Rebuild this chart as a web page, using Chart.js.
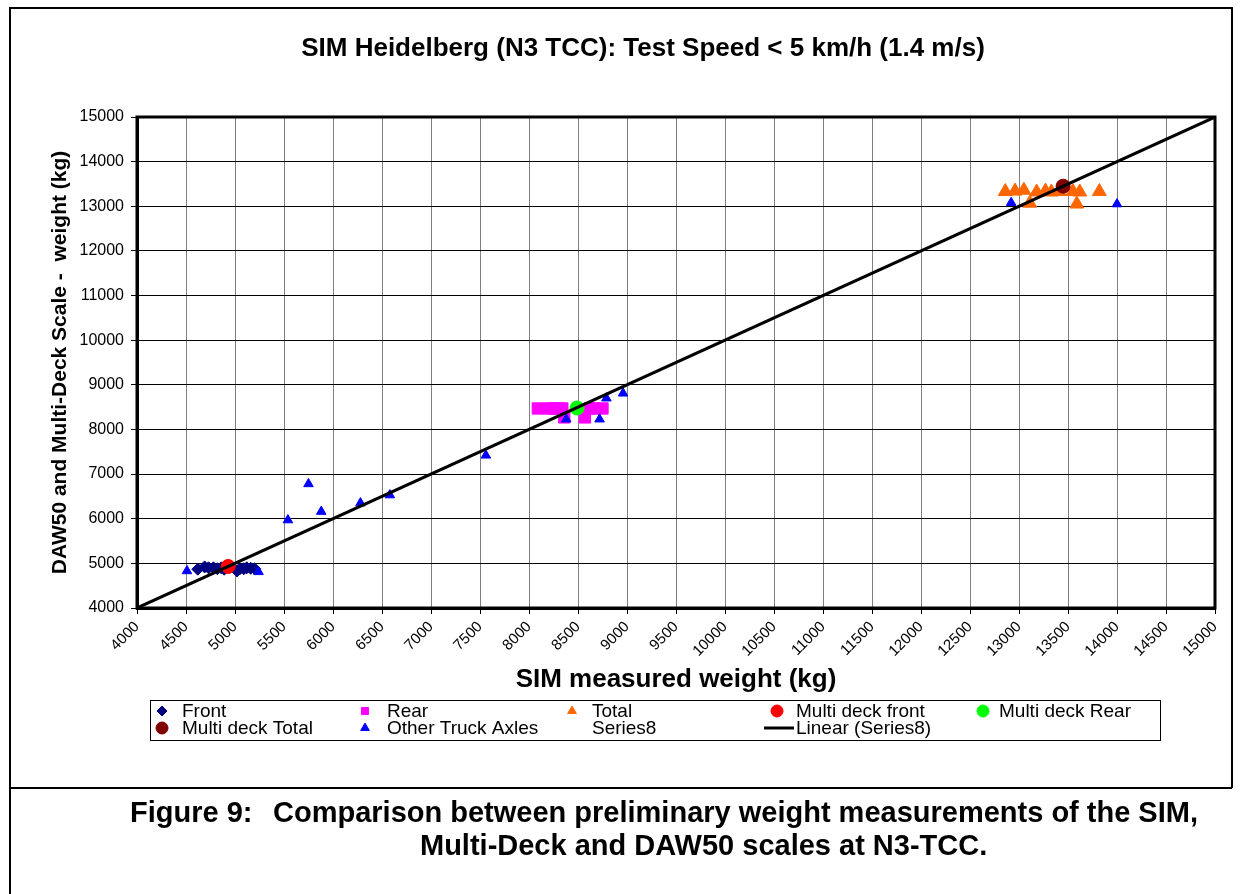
<!DOCTYPE html>
<html>
<head>
<meta charset="utf-8">
<title>SIM Heidelberg (N3 TCC)</title>
<script src="https://cdn.jsdelivr.net/npm/chart.js@4.4.1/dist/chart.umd.min.js"></script>
<style>
  html, body { margin: 0; padding: 0; background: #fff; }
  #wrap { position: relative; width: 1241px; height: 894px; }
  .cap { position: absolute; font: bold 29px/33px "Liberation Sans", Arial, sans-serif; color: #000; white-space: nowrap; }
</style>
</head>
<body>
<div id="wrap">
  <canvas id="simChart" width="1241" height="894"></canvas>
  <div class="cap" style="left:130px; top:796px;">Figure 9:</div>
  <div class="cap" style="left:273px; top:796px;">Comparison between preliminary weight measurements of the SIM,</div>
  <div class="cap" style="left:420px; top:829px;">Multi-Deck and DAW50 scales at N3-TCC.</div>
</div>
<script>
// ==========================================
// SIM vs DAW50 / MULTI-DECK WEIGHTS (scatter)
// ==========================================

const FONT = '"Liberation Sans", Arial, sans-serif';

// axis ranges
const xTicksMin = 4000, xTicksMax = 15000, xStep = 500;
const yTicksMin = 4000, yTicksMax = 15000, yStep = 1000;

// Front axles (navy diamonds)
const frontX = [4620, 4690, 4730, 4780, 4820, 4860, 4890, 5020, 5050, 5090, 5120, 5160, 5200];
const frontY = [4870, 4920, 4900, 4900, 4880, 4900, 4870, 4830, 4880, 4880, 4900, 4890, 4880];

// Rear axles (magenta squares)
const rearX = [8090, 8200, 8250, 8300, 8340, 8620, 8670, 8750, 8360, 8570];
const rearY = [8470, 8470, 8470, 8470, 8470, 8470, 8470, 8470, 8270, 8270];

// Total (orange triangles)
const totalX = [12860, 12960, 13050, 13180, 13270, 13330, 13410, 13550, 13620, 13820, 13110, 13590];
const totalY = [13330, 13340, 13360, 13320, 13340, 13320, 13330, 13330, 13320, 13330, 13070, 13050];

// Multi deck reference values
const mdFrontX = [4930], mdFrontY = [4930];
const mdRearX = [8490], mdRearY = [8480];
const mdTotalX = [13450], mdTotalY = [13450];

// Other truck axles (blue triangles)
const otherX = [4510, 5240, 5540, 5750, 5880, 6280, 6580, 7560, 8380, 8720, 8790, 8960, 12920, 14000];
const otherY = [4830, 4810, 5970, 6780, 6160, 6350, 6530, 7420, 8230, 8230, 8700, 8810, 13080, 13050];

// Series8 (1:1 reference) and its linear trend
const series8X = [4000, 15000];
const series8Y = [4000, 15000];

function pts(xs, ys) {
  return xs.map((x, i) => ({ x: x, y: ys[i] }));
}

const simDatasets = [
  { label: 'Linear (Series8)', data: pts(series8X, series8Y), showLine: true, borderColor: '#000', borderWidth: 3,
    pointRadius: 0, order: 0, legendStyle: 'line' },
  { label: 'Multi deck front', data: pts(mdFrontX, mdFrontY), backgroundColor: '#ff0000', borderColor: '#ff0000',
    pointStyle: 'circle', pointRadius: 7, order: 1 },
  { label: 'Multi deck Rear', data: pts(mdRearX, mdRearY), backgroundColor: '#00ff00', borderColor: '#00ff00',
    pointStyle: 'circle', pointRadius: 7, order: 1 },
  { label: 'Multi deck Total', data: pts(mdTotalX, mdTotalY), backgroundColor: '#800000', borderColor: '#800000',
    pointStyle: 'circle', pointRadius: 7, order: 1 },
  { label: 'Other Truck Axles', data: pts(otherX, otherY), backgroundColor: '#0000ff', borderColor: '#0000ff',
    pointStyle: 'triangle', pointRadius: 5.5, order: 2 },
  { label: 'Front', data: pts(frontX, frontY), backgroundColor: '#000080', borderColor: '#000080',
    pointStyle: 'rectRot', pointRadius: 6, order: 3 },
  { label: 'Rear', data: pts(rearX, rearY), backgroundColor: '#ff00ff', borderColor: '#ff00ff',
    pointStyle: 'rect', pointRadius: 8, order: 3 },
  { label: 'Total', data: pts(totalX, totalY), backgroundColor: '#ff6600', borderColor: '#ff6600',
    pointStyle: 'triangle', pointRadius: 8, order: 3 },
  { label: 'Series8', data: pts(series8X, series8Y), pointRadius: 0, borderWidth: 0, order: 4, legendStyle: 'none' },
];

// legend grid as in the original: two rows, five columns
const legendRows = [
  ['Front', 'Rear', 'Total', 'Multi deck front', 'Multi deck Rear'],
  ['Multi deck Total', 'Other Truck Axles', 'Series8', 'Linear (Series8)'],
];

// frame, title, box around plot and the legend
const figurePlugin = {
  id: 'figure',
  beforeDraw(chart) {
    const ctx = chart.ctx;
    ctx.save();
    ctx.fillStyle = '#fff';
    ctx.fillRect(0, 0, chart.width, chart.height);
    ctx.strokeStyle = '#000';
    ctx.lineWidth = 2;
    ctx.beginPath();
    ctx.moveTo(10, 894); ctx.lineTo(10, 8); ctx.lineTo(1232, 8); ctx.lineTo(1232, 788);
    ctx.moveTo(10, 788); ctx.lineTo(1232, 788);
    ctx.stroke();
    ctx.fillStyle = '#000';
    ctx.font = 'bold 26px ' + FONT;
    ctx.textAlign = 'center';
    ctx.textBaseline = 'middle';
    ctx.fillText('SIM Heidelberg (N3 TCC): Test Speed < 5 km/h (1.4 m/s)', 643, 49);
    ctx.restore();
  },
  afterDraw(chart) {
    const ctx = chart.ctx;
    const a = chart.chartArea;
    ctx.save();
    ctx.strokeStyle = '#000';
    ctx.lineWidth = 3;
    ctx.strokeRect(a.left, a.top, a.right - a.left, a.bottom - a.top);

    // legend box
    ctx.lineWidth = 1;
    ctx.strokeRect(150.5, 700.5, 1010, 40);
    const markX = [162, 365, 572, 777, 983];
    const textX = [182, 387, 592, 796, 999];
    const rowY = [711, 728];
    ctx.font = '19px ' + FONT;
    ctx.textBaseline = 'middle';
    ctx.textAlign = 'left';
    legendRows.forEach((row, r) => {
      row.forEach((label, c) => {
        const ds = chart.data.datasets.find(d => d.label === label);
        const y = rowY[r];
        if (ds.legendStyle === 'line') {
          ctx.strokeStyle = '#000';
          ctx.lineWidth = 3;
          ctx.beginPath();
          ctx.moveTo(764, y); ctx.lineTo(794, y);
          ctx.stroke();
        } else if (ds.legendStyle !== 'none') {
          ctx.fillStyle = ds.backgroundColor;
          ctx.strokeStyle = ds.borderColor;
          Chart.helpers.drawPoint(ctx, {
            pointStyle: ds.pointStyle,
            radius: ds.pointStyle === 'circle' ? 6 : 5,
            rotation: 0,
            borderWidth: 1,
          }, markX[c], y);
        }
        ctx.fillStyle = '#000';
        ctx.fillText(label, textX[c], y + 1);
      });
    });
    ctx.restore();
  },
};

const plainTick = function (value) {
  return String(value);
};

const simConfig = {
  type: 'scatter',
  data: { datasets: simDatasets },
  options: {
    responsive: false,
    animation: false,
    layout: { padding: { left: 0, top: 117, right: 26, bottom: 194 } },
    elements: { point: { borderWidth: 1 } },
    plugins: {
      legend: { display: false },
      title: { display: false },
      tooltip: { enabled: false },
    },
    scales: {
      x: {
        type: 'linear',
        min: xTicksMin,
        max: xTicksMax,
        ticks: {
          stepSize: xStep,
          autoSkip: false,
          minRotation: 45,
          maxRotation: 45,
          color: '#000',
          padding: 4,
          font: { family: FONT, size: 15 },
          callback: plainTick,
        },
        grid: { color: '#808080', lineWidth: 1, tickLength: 6, tickColor: '#000' },
        border: { display: true, color: '#000', width: 3 },
        title: {
          display: true,
          text: 'SIM measured weight (kg)',
          color: '#000',
          font: { family: FONT, size: 26, weight: 'bold' },
          padding: { top: 0, bottom: 5 },
        },
        afterFit: function (scale) {
          scale.height = 92;
        },
      },
      y: {
        type: 'linear',
        min: yTicksMin,
        max: yTicksMax,
        ticks: {
          stepSize: yStep,
          color: '#000',
          padding: 7,
          font: { family: FONT, size: 16 },
          callback: plainTick,
        },
        grid: { color: '#000', lineWidth: 1, tickLength: 6, tickColor: '#000' },
        border: { display: true, color: '#000', width: 3 },
        title: {
          display: true,
          text: 'DAW50 and Multi-Deck Scale -  weight (kg)',
          color: '#000',
          font: { family: FONT, size: 21, weight: 'bold' },
          padding: { top: 48, bottom: 0 },
        },
        afterFit: function (scale) {
          scale.width = 137;
        },
      },
    },
  },
  plugins: [figurePlugin],
};

const simChart = new Chart(document.getElementById('simChart'), simConfig);
</script>
</body>
</html>
